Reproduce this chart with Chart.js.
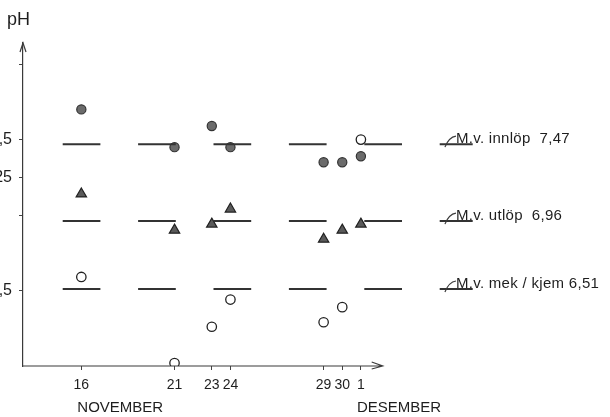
<!DOCTYPE html>
<html>
<head>
<meta charset="utf-8">
<script src="https://cdn.jsdelivr.net/npm/chart.js@4/dist/chart.umd.min.js"></script>
<style>
  html, body { margin: 0; padding: 0; background: #fff; }
  canvas { display: block; }
</style>
</head>
<body>
<canvas id="chart" width="610" height="417"></canvas>
<script>
// Dager (16-30 november, 31 = 1 desember)
const days = [16, 21, 23, 24, 29, 30, 31];
const dayLabels = ['16', '21', '23', '24', '29', '30', '1'];
const months = ['NOVEMBER', 'DESEMBER'];
const monthStart = [16, 31];

// pH-verdier lest av figuren
const innlop = [7.70, 7.45, 7.59, 7.45, 7.35, 7.35, 7.39];
const utlop = [7.14, 6.90, 6.94, 7.04, 6.84, 6.90, 6.94];
const mekKjem = [6.59, 6.02, 6.26, 6.44, 6.29, 6.39, 7.50];

// Middelverdier
const means = [7.47, 6.96, 6.51];
const meanLabels = ['M.v. innlöp  7,47', 'M.v. utlöp  6,96', 'M.v. mek / kjem 6,51'];
const meanFrom = 15;
const meanTo = 37;
const labelDay = 36.1;

// Akse
const yTicks = [6.5, 7.0, 7.25, 7.5, 8.0];
const yTickLabels = ['6,5', '', '7,25', '7,5', ''];
const xArrowEnd = 32.17;

const font = '"Liberation Sans", Arial, sans-serif';
const ink = '#1e1e1e';

function pts(vals) {
    return days.map((d, i) => ({ x: d, y: vals[i] }));
}
function meanLine(m) {
    return [{ x: meanFrom, y: m }, { x: meanTo, y: m }];
}

const lineStyle = {
    type: 'line',
    borderColor: '#333',
    borderWidth: 2,
    borderDash: [37.7, 37.7],
    pointRadius: 0,
    fill: false
};

// Piler, tekst og måneder
const decor = {
    id: 'decor',
    afterDraw(chart) {
        const { ctx, chartArea: a, scales: { x, y } } = chart;
        ctx.save();
        ctx.strokeStyle = '#3a3a3a';
        ctx.fillStyle = ink;
        ctx.lineWidth = 1.2;

        // x-akse med pil
        const y0 = a.bottom;
        const xe = x.getPixelForValue(xArrowEnd);
        ctx.beginPath();
        ctx.moveTo(a.left, y0);
        ctx.lineTo(xe, y0);
        ctx.moveTo(xe - 11, y0 - 4);
        ctx.lineTo(xe, y0);
        ctx.lineTo(xe - 11, y0 + 3);
        ctx.stroke();

        // pil på y-aksen
        ctx.beginPath();
        ctx.moveTo(a.left - 3, a.top + 9);
        ctx.lineTo(a.left, a.top);
        ctx.lineTo(a.left + 3, a.top + 9);
        ctx.stroke();

        ctx.textAlign = 'left';
        ctx.textBaseline = 'alphabetic';
        ctx.font = '18px ' + font;
        ctx.fillText('pH', 7, 25);

        ctx.font = '15px ' + font;
        months.forEach((m, i) => {
            ctx.fillText(m, x.getPixelForValue(monthStart[i]) - 4, 412);
        });

        ctx.letterSpacing = '0.3px';
        means.forEach((m, i) => {
            const py = y.getPixelForValue(m);
            const px = x.getPixelForValue(labelDay);
            ctx.fillText(meanLabels[i], px, py - 1);
            ctx.beginPath();
            ctx.moveTo(px - 11, py + 3);
            ctx.quadraticCurveTo(px - 7, py - 7, px, py - 8);
            ctx.stroke();
        });
        ctx.restore();
    }
};

new Chart(document.getElementById('chart'), {
    data: {
        datasets: [
            Object.assign({ data: meanLine(means[0]) }, lineStyle),
            Object.assign({ data: meanLine(means[1]) }, lineStyle),
            Object.assign({ data: meanLine(means[2]) }, lineStyle),
            {
                type: 'scatter',
                label: 'Innløp',
                data: pts(innlop),
                pointStyle: 'circle',
                pointRadius: 4.6,
                backgroundColor: '#6b6b6b',
                borderColor: '#333',
                borderWidth: 1.2
            },
            {
                type: 'scatter',
                label: 'Utløp',
                data: pts(utlop),
                pointStyle: 'triangle',
                pointRadius: 6,
                backgroundColor: '#5a5a5a',
                borderColor: '#222',
                borderWidth: 1.2
            },
            {
                type: 'scatter',
                label: 'Mek/kjem',
                data: pts(mekKjem),
                pointStyle: 'circle',
                pointRadius: 4.7,
                backgroundColor: '#fff',
                borderColor: '#222',
                borderWidth: 1.3
            }
        ]
    },
    options: {
        responsive: false,
        animation: false,
        devicePixelRatio: 1,
        layout: { padding: { top: 43, left: 0, right: 0, bottom: 0 } },
        plugins: {
            legend: { display: false },
            tooltip: { enabled: false }
        },
        scales: {
            x: {
                type: 'linear',
                min: 12.87,
                max: 43.98,
                afterFit(s) { s.height = 51; },
                afterBuildTicks(s) { s.ticks = days.map(v => ({ value: v })); },
                border: { display: false },
                grid: { drawOnChartArea: false, drawTicks: true, tickLength: 4, color: '#444', lineWidth: 1 },
                ticks: {
                    autoSkip: false,
                    maxRotation: 0,
                    padding: 7,
                    color: ink,
                    font: { family: font, size: 14 },
                    callback: (v, i) => dayLabels[i]
                }
            },
            y: {
                type: 'linear',
                min: 6.0,
                max: 8.14,
                afterFit(s) { s.width = 23; },
                afterBuildTicks(s) { s.ticks = yTicks.map(v => ({ value: v })); },
                border: { display: true, color: '#3a3a3a', width: 1.2 },
                grid: { drawOnChartArea: false, drawTicks: true, tickLength: 4, color: '#444', lineWidth: 1 },
                ticks: {
                    padding: 7,
                    color: ink,
                    font: { family: font, size: 16 },
                    callback: (v, i) => yTickLabels[i]
                }
            }
        }
    },
    plugins: [decor]
});
</script>
</body>
</html>
